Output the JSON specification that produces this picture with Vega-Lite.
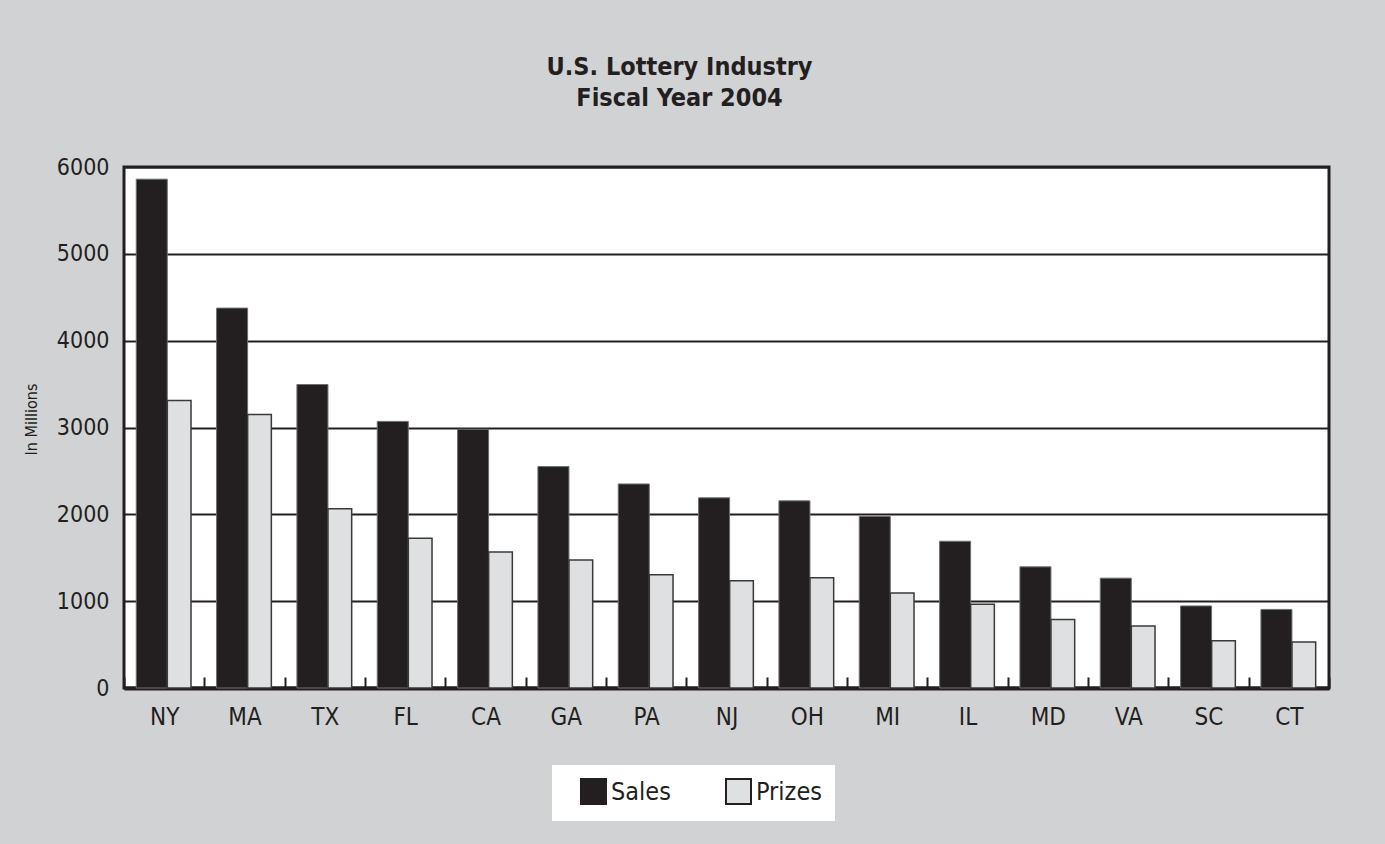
{
  "$schema": "https://vega.github.io/schema/vega-lite/v6.json",
  "width": 1205,
  "height": 521,
  "autosize": {"type": "none"},
  "padding": {"left": 124, "top": 167, "right": 56, "bottom": 156},
  "background": "#d1d2d4",
  "config": {
    "view": {"fill": "white", "stroke": "#231f20", "strokeWidth": 3},
    "font": "DejaVu Sans Condensed, sans-serif"
  },
  "title": {
    "text": ["U.S. Lottery Industry", "Fiscal Year 2004"],
    "font": "DejaVu Sans Condensed, sans-serif",
    "fontSize": 25,
    "fontWeight": "bold",
    "color": "#231f20",
    "lineHeight": 31,
    "anchor": "middle",
    "frame": "group",
    "dx": -47,
    "offset": 20,
    "baseline": "bottom"
  },
  "data": {
    "values": [
      {"state": "NY", "series": "Sales", "value": 5860},
      {"state": "NY", "series": "Prizes", "value": 3310},
      {"state": "MA", "series": "Sales", "value": 4375},
      {"state": "MA", "series": "Prizes", "value": 3150},
      {"state": "TX", "series": "Sales", "value": 3495},
      {"state": "TX", "series": "Prizes", "value": 2065},
      {"state": "FL", "series": "Sales", "value": 3070},
      {"state": "FL", "series": "Prizes", "value": 1725},
      {"state": "CA", "series": "Sales", "value": 2980},
      {"state": "CA", "series": "Prizes", "value": 1565},
      {"state": "GA", "series": "Sales", "value": 2550},
      {"state": "GA", "series": "Prizes", "value": 1475},
      {"state": "PA", "series": "Sales", "value": 2350},
      {"state": "PA", "series": "Prizes", "value": 1305},
      {"state": "NJ", "series": "Sales", "value": 2190},
      {"state": "NJ", "series": "Prizes", "value": 1235},
      {"state": "OH", "series": "Sales", "value": 2155},
      {"state": "OH", "series": "Prizes", "value": 1270},
      {"state": "MI", "series": "Sales", "value": 1975},
      {"state": "MI", "series": "Prizes", "value": 1095},
      {"state": "IL", "series": "Sales", "value": 1690},
      {"state": "IL", "series": "Prizes", "value": 965},
      {"state": "MD", "series": "Sales", "value": 1395},
      {"state": "MD", "series": "Prizes", "value": 790},
      {"state": "VA", "series": "Sales", "value": 1265},
      {"state": "VA", "series": "Prizes", "value": 715},
      {"state": "SC", "series": "Sales", "value": 945},
      {"state": "SC", "series": "Prizes", "value": 545},
      {"state": "CT", "series": "Sales", "value": 905},
      {"state": "CT", "series": "Prizes", "value": 530}
    ]
  },
  "encoding": {
    "x": {
      "field": "state",
      "type": "nominal",
      "sort": ["NY", "MA", "TX", "FL", "CA", "GA", "PA", "NJ", "OH", "MI", "IL", "MD", "VA", "SC", "CT"],
      "scale": {"paddingInner": 0, "paddingOuter": 0},
      "axis": {
        "title": null,
        "labelAngle": 0,
        "labelFontSize": 24,
        "labelColor": "#231f20",
        "labelPadding": 28,
        "tickBand": "extent",
        "ticks": true,
        "tickSize": -11,
        "tickWidth": 2,
        "tickColor": "#231f20",
        "domain": true,
        "domainWidth": 4,
        "domainColor": "#231f20",
        "grid": false
      }
    },
    "y": {
      "field": "value",
      "type": "quantitative",
      "scale": {"domain": [0, 6000], "nice": false},
      "axis": {
        "title": "In Millions",
        "titleFontSize": 16,
        "titleFontWeight": "normal",
        "titleColor": "#231f20",
        "titleAngle": 270,
        "titleX": -93,
        "titleY": 252,
        "titleAlign": "center",
        "titleBaseline": "middle",
        "values": [0, 1000, 2000, 3000, 4000, 5000, 6000],
        "format": "d",
        "labelFontSize": 23,
        "labelColor": "#231f20",
        "labelPadding": 15,
        "ticks": false,
        "domain": false,
        "grid": true,
        "gridColor": "#231f20",
        "gridWidth": 2,
        "gridOpacity": 1
      }
    },
    "color": {
      "field": "series",
      "type": "nominal",
      "scale": {"domain": ["Sales", "Prizes"], "range": ["#231f20", "#dfe0e2"]},
      "legend": {
        "title": null,
        "orient": "none",
        "legendX": 428,
        "legendY": 598,
        "direction": "horizontal",
        "fillColor": "white",
        "padding": 13,
        "symbolType": "square",
        "symbolSize": 625,
        "symbolStrokeColor": "#231f20",
        "symbolStrokeWidth": 2,
        "symbolOpacity": 1,
        "symbolOffset": 15,
        "labelFontSize": 25,
        "labelColor": "#231f20",
        "labelOffset": 4,
        "columnPadding": 39
      }
    }
  },
  "layer": [
    {
      "transform": [{"filter": "datum.series === 'Sales'"}],
      "mark": {"type": "bar", "width": {"band": 0.386}, "xOffset": -12.4, "stroke": "#6d6e70", "strokeWidth": 1}
    },
    {
      "transform": [{"filter": "datum.series === 'Prizes'"}],
      "mark": {"type": "bar", "width": {"band": 0.295}, "xOffset": 15, "stroke": "#3a3a3a", "strokeWidth": 1.5}
    }
  ]
}
